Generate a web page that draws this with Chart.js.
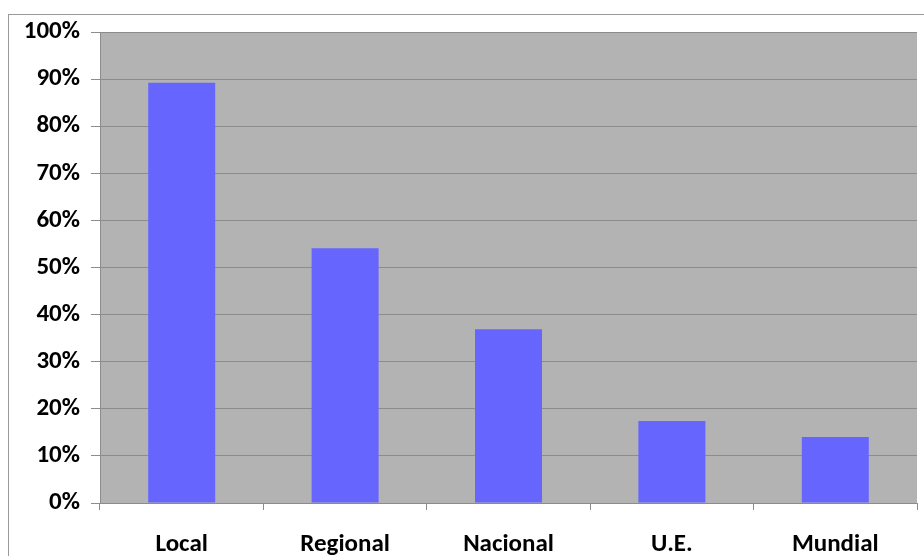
<!DOCTYPE html>
<html>
<head>
<meta charset="utf-8">
<script src="https://cdn.jsdelivr.net/npm/chart.js@4"></script>
<style>
  html, body { margin: 0; padding: 0; background: #fff; }
  #wrap { width: 924px; height: 556px; position: relative; }
</style>
</head>
<body>
<div id="wrap"><canvas id="grafico"></canvas></div>
<script>
// ámbito de mercado (% de respuestas)
const categorias = ['Local', 'Regional', 'Nacional', 'U.E.', 'Mundial'];
const porcentajes = [89.2, 54.1, 36.9, 17.4, 14.0];
const marcasY = [0, 10, 20, 30, 40, 50, 60, 70, 80, 90, 100];

const fuente = { family: 'Carlito, Lato, sans-serif', size: 25, weight: 'bold' };

// fondo gris del área de trazado y marco exterior
const fondo = {
  id: 'fondo',
  beforeDraw(chart) {
    const { ctx, chartArea: a } = chart;
    ctx.save();
    ctx.strokeStyle = '#9a9a9a';
    ctx.lineWidth = 1;
    ctx.strokeRect(8.5, 14.5, 940, 560);
    ctx.fillStyle = '#b3b3b3';
    ctx.fillRect(a.left, a.top, a.right - a.left, a.bottom - a.top);
    ctx.restore();
  }
};

new Chart(document.getElementById('grafico'), {
  type: 'bar',
  data: {
    labels: categorias,
    datasets: [{
      data: porcentajes,
      backgroundColor: '#6666ff',
      borderWidth: 0,
      barPercentage: 0.41,
      categoryPercentage: 1
    }]
  },
  options: {
    responsive: true,
    maintainAspectRatio: false,
    animation: false,
    layout: { padding: { left: 0, top: 32, right: 7, bottom: 0 } },
    plugins: { legend: { display: false }, tooltip: { enabled: false } },
    scales: {
      x: {
        grid: { drawOnChartArea: false, drawTicks: true, tickLength: 7, color: '#8c8c8c' },
        border: { color: '#8c8c8c' },
        ticks: { color: '#000', font: fuente, padding: 20 },
        afterFit(s) { s.height = 53; }
      },
      y: {
        min: 0,
        max: 100,
        afterBuildTicks(s) { s.ticks = marcasY.map(v => ({ value: v })); },
        grid: { color: '#8c8c8c', tickLength: 9 },
        border: { color: '#8c8c8c' },
        ticks: { color: '#000', font: fuente, padding: 11, callback: v => v + '%' },
        afterFit(s) { s.width = 100; }
      }
    }
  },
  plugins: [fondo]
});
</script>
</body>
</html>
